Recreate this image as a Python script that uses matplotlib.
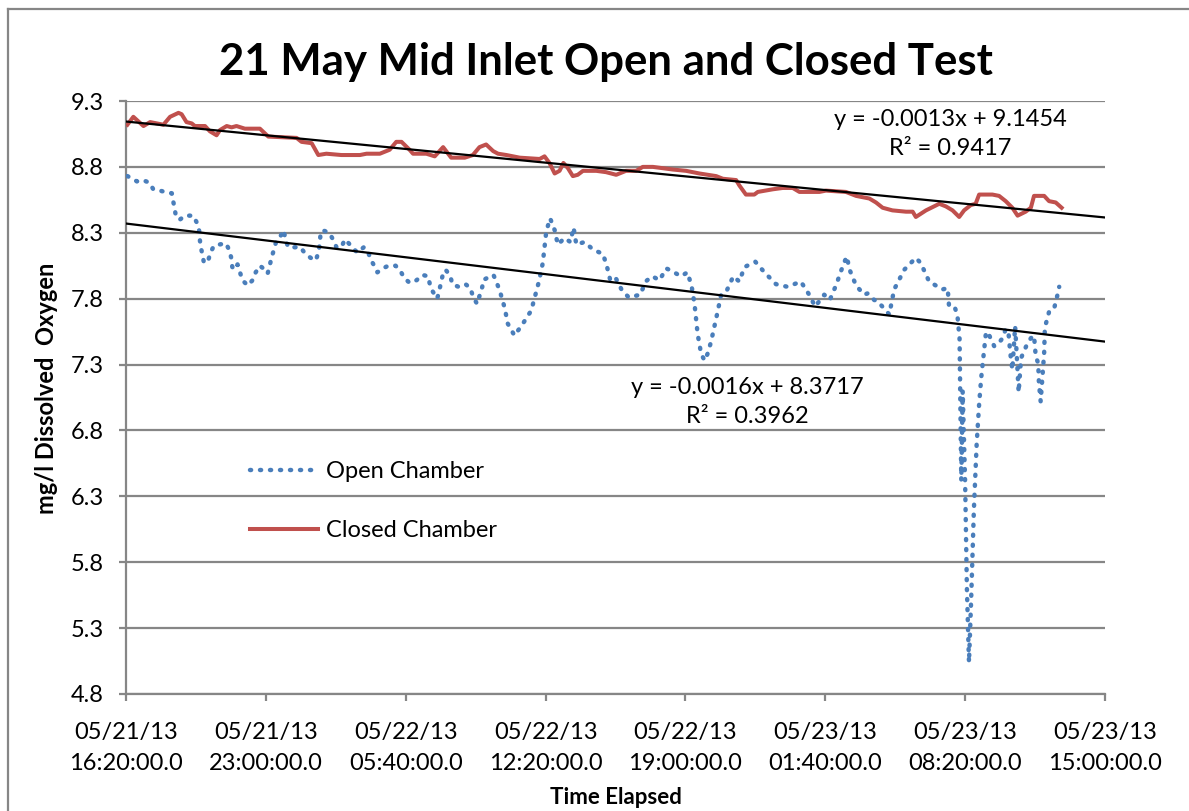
import matplotlib
matplotlib.use("Agg")
import matplotlib.pyplot as plt
from matplotlib.lines import Line2D
import numpy as np

W, H, DPI = 1189, 811, 100
FONT = ["Lato", "DejaVu Sans"]
plt.rcParams["font.family"] = FONT

title = "21 May Mid Inlet Open and Closed Test"
x_label = "Time Elapsed"
y_label = "mg/l Dissolved  Oxygen"
x_tick_minutes = [0, 400, 800, 1200, 1600, 2000, 2400, 2800]
x_tick_labels = ["05/21/13\n16:20:00.0", "05/21/13\n23:00:00.0", "05/22/13\n05:40:00.0",
                 "05/22/13\n12:20:00.0", "05/22/13\n19:00:00.0", "05/23/13\n01:40:00.0",
                 "05/23/13\n08:20:00.0", "05/23/13\n15:00:00.0"]
y_ticks = [4.8, 5.3, 5.8, 6.3, 6.8, 7.3, 7.8, 8.3, 8.8, 9.3]

# minutes since 05/21/13 16:20
closed_t = [4, 21, 50, 69, 107, 126, 150, 159, 173, 188,
            197, 226, 240, 259, 269, 288, 302, 316, 340, 383,
            407, 488, 502, 531, 550, 573, 616, 669, 688, 726,
            754, 773, 788, 811, 821, 859, 883, 907, 930, 969,
            992, 1011, 1030, 1050, 1064, 1088, 1126, 1183, 1197, 1211,
            1226, 1240, 1251, 1264, 1278, 1292, 1307, 1345, 1373, 1402,
            1430, 1459, 1478, 1507, 1564, 1602, 1640, 1688, 1707, 1745,
            1754, 1773, 1797, 1807, 1850, 1878, 1907, 1926, 1983, 2002,
            2059, 2088, 2126, 2145, 2164, 2192, 2231, 2250, 2259, 2288,
            2326, 2345, 2364, 2383, 2397, 2416, 2430, 2440, 2478, 2497,
            2516, 2535, 2550, 2573, 2588, 2597, 2626, 2640, 2659, 2676]
closed_v = [9.12, 9.18, 9.11, 9.14, 9.12, 9.18, 9.21, 9.20, 9.14, 9.13,
            9.11, 9.11, 9.07, 9.04, 9.08, 9.11, 9.10, 9.11, 9.09, 9.09,
            9.03, 9.02, 8.99, 8.98, 8.89, 8.90, 8.89, 8.89, 8.90, 8.90,
            8.93, 8.99, 8.99, 8.93, 8.90, 8.90, 8.88, 8.95, 8.87, 8.87,
            8.89, 8.95, 8.97, 8.92, 8.90, 8.89, 8.87, 8.86, 8.88, 8.83,
            8.75, 8.77, 8.83, 8.79, 8.73, 8.74, 8.77, 8.77, 8.76, 8.74,
            8.77, 8.77, 8.80, 8.80, 8.78, 8.77, 8.75, 8.73, 8.71, 8.70,
            8.66, 8.59, 8.59, 8.61, 8.63, 8.64, 8.64, 8.61, 8.61, 8.62,
            8.61, 8.58, 8.56, 8.53, 8.49, 8.47, 8.46, 8.46, 8.42, 8.47,
            8.52, 8.50, 8.47, 8.42, 8.47, 8.51, 8.52, 8.59, 8.59, 8.58,
            8.54, 8.49, 8.43, 8.46, 8.49, 8.58, 8.58, 8.54, 8.53, 8.49]

open_t = [4, 19, 31, 48, 67, 78, 97, 111, 131, 135,
          140, 143, 154, 169, 192, 202, 209, 211, 214, 219,
          223, 235, 242, 251, 265, 286, 295, 301, 304, 311,
          319, 326, 333, 348, 362, 371, 383, 397, 405, 411,
          416, 423, 429, 443, 451, 456, 464, 480, 499, 513,
          528, 543, 550, 554, 556, 562, 581, 592, 602, 616,
          626, 637, 650, 662, 680, 692, 699, 710, 719, 735,
          750, 771, 785, 795, 811, 831, 848, 864, 869, 876,
          890, 895, 900, 905, 914, 928, 933, 951, 971, 985,
          992, 1004, 1011, 1019, 1021, 1035, 1051, 1059, 1069, 1083,
          1092, 1111, 1135, 1159, 1171, 1181, 1192, 1202, 1213, 1226,
          1235, 1254, 1271, 1280, 1288, 1311, 1337, 1364, 1375, 1385,
          1400, 1419, 1438, 1471, 1486, 1505, 1526, 1545, 1561, 1587,
          1606, 1618, 1626, 1631, 1635, 1645, 1655, 1663, 1673, 1692,
          1702, 1718, 1737, 1754, 1769, 1800, 1826, 1859, 1892, 1930,
          1954, 1971, 1997, 2013, 2032, 2045, 2061, 2071, 2088, 2111,
          2121, 2140, 2150, 2183, 2197, 2226, 2259, 2273, 2297, 2335,
          2350, 2354, 2371, 2378, 2384, 2389, 2393, 2400, 2405, 2411,
          2417, 2425, 2433, 2440, 2446, 2459, 2464, 2483, 2492, 2507,
          2516, 2524, 2529, 2535, 2543, 2548, 2553, 2560, 2578, 2588,
          2597, 2602, 2609, 2611, 2616, 2626, 2628, 2640, 2654, 2667,
          2669]
open_v = [8.73, 8.71, 8.69, 8.70, 8.68, 8.63, 8.62, 8.61, 8.60, 8.54,
          8.47, 8.42, 8.40, 8.43, 8.43, 8.38, 8.32, 8.25, 8.19, 8.13,
          8.07, 8.09, 8.15, 8.20, 8.21, 8.22, 8.17, 8.11, 8.04, 8.02,
          8.06, 8.00, 7.94, 7.90, 7.94, 8.00, 8.05, 8.02, 7.99, 8.05,
          8.11, 8.17, 8.23, 8.28, 8.32, 8.25, 8.19, 8.19, 8.19, 8.14,
          8.11, 8.09, 8.15, 8.21, 8.28, 8.32, 8.30, 8.25, 8.19, 8.19,
          8.25, 8.22, 8.18, 8.15, 8.19, 8.16, 8.10, 8.05, 8.00, 8.03,
          8.05, 8.05, 8.01, 7.96, 7.92, 7.94, 7.98, 7.97, 7.91, 7.86,
          7.80, 7.85, 7.91, 7.97, 8.02, 7.97, 7.91, 7.89, 7.91, 7.88,
          7.82, 7.76, 7.82, 7.89, 7.94, 7.96, 7.98, 7.93, 7.86, 7.73,
          7.61, 7.52, 7.61, 7.71, 7.83, 7.93, 8.07, 8.31, 8.41, 8.32,
          8.21, 8.26, 8.23, 8.34, 8.21, 8.23, 8.17, 8.14, 8.05, 7.94,
          7.96, 7.86, 7.81, 7.83, 7.93, 7.97, 7.94, 8.03, 8.01, 7.97,
          8.00, 7.89, 7.76, 7.63, 7.53, 7.38, 7.33, 7.38, 7.47, 7.70,
          7.83, 7.86, 7.97, 7.93, 8.04, 8.08, 8.00, 7.91, 7.89, 7.93,
          7.83, 7.74, 7.83, 7.79, 7.91, 8.01, 8.12, 8.01, 7.90, 7.83,
          7.84, 7.79, 7.78, 7.68, 7.87, 8.02, 8.11, 8.07, 7.93, 7.87,
          7.88, 7.74, 7.73, 7.67, 7.50, 6.42, 7.10, 6.40, 5.60, 5.04,
          5.50, 6.20, 6.70, 7.00, 7.20, 7.53, 7.55, 7.44, 7.45, 7.50,
          7.57, 7.54, 7.39, 7.26, 7.59, 7.35, 7.09, 7.35, 7.46, 7.50,
          7.52, 7.36, 7.31, 7.16, 7.02, 7.39, 7.58, 7.70, 7.72, 7.86,
          7.89]

sample_minutes = 5
open_fit = (-0.0016, 8.3717)
closed_fit = (-0.0013, 9.1454)
open_eq = "y = -0.0016x + 8.3717\nR\u00b2 = 0.3962"
closed_eq = "y = -0.0013x + 9.1454\nR\u00b2 = 0.9417"

assert len(closed_t) == len(closed_v), (len(closed_t), len(closed_v))
assert len(open_t) == len(open_v), (len(open_t), len(open_v))

RED = "#C0504D"
BLUE = "#4A7EBB"
GRID = "#868686"
FS = 17

fig = plt.figure(figsize=(W / DPI, H / DPI), dpi=DPI)
ax = fig.add_axes([126 / W, 1 - 694 / H, (1105 - 126) / W, (694 - 101) / H])

open_line, = ax.plot(open_t, open_v, color=BLUE, lw=3.2,
                     linestyle=(0, (0.25, 2.0)), dash_capstyle="round",
                     solid_capstyle="round", label="Open Chamber", zorder=3)
closed_line, = ax.plot(closed_t, closed_v, color=RED, lw=2.9,
                       solid_joinstyle="round", label="Closed Chamber", zorder=3)

tt = np.array([x_tick_minutes[0], x_tick_minutes[-1]], dtype=float)
idx = tt / sample_minutes + 1
ax.plot(tt, open_fit[0] * idx + open_fit[1], color="black", lw=1.6, zorder=4)
ax.plot(tt, closed_fit[0] * idx + closed_fit[1], color="black", lw=1.6, zorder=4)

ax.set_xlim(x_tick_minutes[0], x_tick_minutes[-1])
ax.set_ylim(y_ticks[0], y_ticks[-1])
ax.set_xticks(x_tick_minutes)
ax.set_xticklabels(x_tick_labels, fontsize=FS, linespacing=1.62)
ax.set_yticks(y_ticks)
ax.set_yticklabels([f"{v:.1f}" for v in y_ticks], fontsize=FS)
ax.yaxis.grid(True, color=GRID, lw=1.6)
ax.set_axisbelow(True)
for s in ["top", "right"]:
    ax.spines[s].set_visible(False)
for s in ["left", "bottom"]:
    ax.spines[s].set_color(GRID)
    ax.spines[s].set_linewidth(1.6)
ax.tick_params(axis="both", direction="out", length=5, width=1.6, color=GRID,
               labelcolor="black")
ax.tick_params(axis="x", pad=15)
ax.tick_params(axis="y", pad=11)

ax.text(950 / W, 1 - 134 / H, closed_eq, transform=fig.transFigure, ha="center",
        va="center", fontsize=FS, linespacing=1.5)
ax.text(747 / W, 1 - 402 / H, open_eq, transform=fig.transFigure, ha="center",
        va="center", fontsize=FS, linespacing=1.5)

leg = ax.legend(handles=[open_line, closed_line], loc="upper left",
                bbox_to_anchor=(250 / W, 1 - 461 / H), bbox_transform=fig.transFigure,
                frameon=False, fontsize=FS, handlelength=2.9, handletextpad=0.34,
                labelspacing=1.6, borderpad=0, borderaxespad=0)

fig.text(606 / W, 1 - 62 / H, title, ha="center", va="center", fontsize=31.5,
         fontweight="bold")
fig.text(616 / W, 1 - 797 / H, x_label, ha="center", va="center", fontsize=16,
         fontweight="bold")
fig.text(47 / W, 1 - 388 / H, y_label, ha="center", va="center", fontsize=17,
         fontweight="bold", rotation=90)

fig.add_artist(Line2D([8 / W, 1.0], [1 - 9 / H, 1 - 9 / H], transform=fig.transFigure,
                      color=GRID, lw=1.6))
fig.add_artist(Line2D([8 / W, 8 / W], [1 - 9 / H, 0.0], transform=fig.transFigure,
                      color=GRID, lw=1.6))

fig.savefig("out.png", dpi=DPI)
